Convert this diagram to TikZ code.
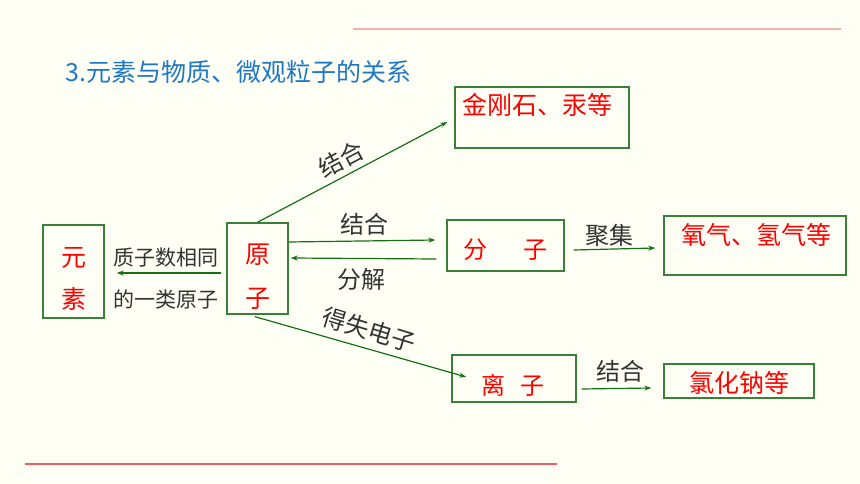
\documentclass[tikz,border=0pt]{standalone}
\usepackage{fontspec}
\setmainfont{Noto Sans CJK SC}
\usepackage{xcolor}
\usetikzlibrary{arrows.meta}
\definecolor{bgcream}{RGB}{255,255,246}
\definecolor{boxgreen}{RGB}{56,130,56}
\definecolor{arrgreen}{RGB}{20,112,20}
\definecolor{titleblue}{RGB}{30,120,200}
\definecolor{lightline}{RGB}{240,180,168}
\definecolor{redline}{RGB}{232,96,96}
\begin{document}
\begin{tikzpicture}[x=1pt, y=-1pt,
  box/.style={draw=boxgreen, line width=1.4pt, inner sep=0pt},
  redtxt/.style={text=red, inner sep=0pt, font=\fontsize{25}{30}\selectfont},
  lbl/.style={text=black!80, inner sep=0pt, font=\fontsize{24}{28}\selectfont},
  arr/.style={draw=arrgreen, line width=1.2pt, -{Stealth[length=7pt,width=5pt]}}]
\fill[bgcream] (0,0) rectangle (860,484);
\useasboundingbox (0,0) rectangle (860,484);
\draw[lightline, line width=2pt] (353,29) -- (841,29);
\draw[redline, line width=1.5pt] (25,464) -- (557,464);
\node[anchor=west, inner sep=0pt, text=titleblue, font=\fontsize{25}{30}\selectfont] (title) at (65,72) {3.元素与物质、微观粒子的关系};

% boxes
\node[box, minimum width=61pt, minimum height=93pt] (ys) at (73.5,271.5) {};
\node[box, minimum width=61pt, minimum height=91pt] (yz) at (257.5,268.5) {};
\node[box, minimum width=174pt, minimum height=61pt] (jgs) at (542,117.5) {};
\node[box, minimum width=117pt, minimum height=51pt] (fz) at (505.5,245.5) {};
\node[box, minimum width=182pt, minimum height=59pt] (yq) at (755,245.5) {};
\node[box, minimum width=124pt, minimum height=47pt] (lz) at (514,378.5) {};
\node[box, minimum width=150pt, minimum height=34pt] (lhn) at (739,381) {};

% texts in boxes
\node[redtxt, align=center, font=\fontsize{25}{42}\selectfont] (ys-t) at (73.5,279) {元\\素};
\node[redtxt, align=center, font=\fontsize{25}{44}\selectfont] (yz-t) at (258,277) {原\\子};
\node[redtxt] (jgs-t) at (537,105) {金刚石、汞等};
\node[redtxt, font=\fontsize{24}{28}\selectfont] (fz-t) at (505,250) {分\hspace{1.5em}子};
\node[redtxt] (yq-t) at (756,235) {氧气、氢气等};
\node[redtxt, font=\fontsize{24}{28}\selectfont] (lz-t) at (513,385) {离\hspace{0.6em}子};
\node[redtxt] (lhn-t) at (739,383) {氯化钠等};

% labels
\node[lbl, align=center, font=\fontsize{21}{42}\selectfont] (zzs) at (166,279) {质子数相同\\的一类原子};
\node[lbl, rotate=28] (jh1) at (341,159) {结合};
\node[lbl] (jh2) at (364,224) {结合};
\node[lbl] (fj) at (361,279) {分解};
\node[lbl] (jj) at (609,235) {聚集};
\node[lbl, rotate=-17] (dsdz) at (369,330) {得失电子};
\node[lbl] (jh3) at (620,371) {结合};

% arrows
\draw[arr] (yz.north) -- ([xshift=-7pt,yshift=-4.5pt]jgs.west);
\draw[arr] ([yshift=26.5pt]yz.east) -- ([xshift=-11pt,yshift=5.5pt]fz.west);
\draw[arr] ([xshift=-10pt,yshift=-13.5pt]fz.west) -- ([xshift=2pt,yshift=10.5pt]yz.east);
\draw[arr] ([xshift=-5pt,yshift=-4.5pt]yz.west) -- ([xshift=12pt,yshift=-1.5pt]ys.east);
\draw[arr] ([xshift=9pt,yshift=-4.5pt]fz.east) -- ([xshift=-8pt,yshift=-2.5pt]yq.west);
\draw[arr] ([xshift=-2.5pt,yshift=-2pt]yz.south) -- ([xshift=15pt,yshift=1.5pt]lz.west);
\draw[arr] ([xshift=5pt,yshift=-10.5pt]lz.east) -- ([xshift=-12pt,yshift=-7pt]lhn.west);
\end{tikzpicture}
\end{document}
